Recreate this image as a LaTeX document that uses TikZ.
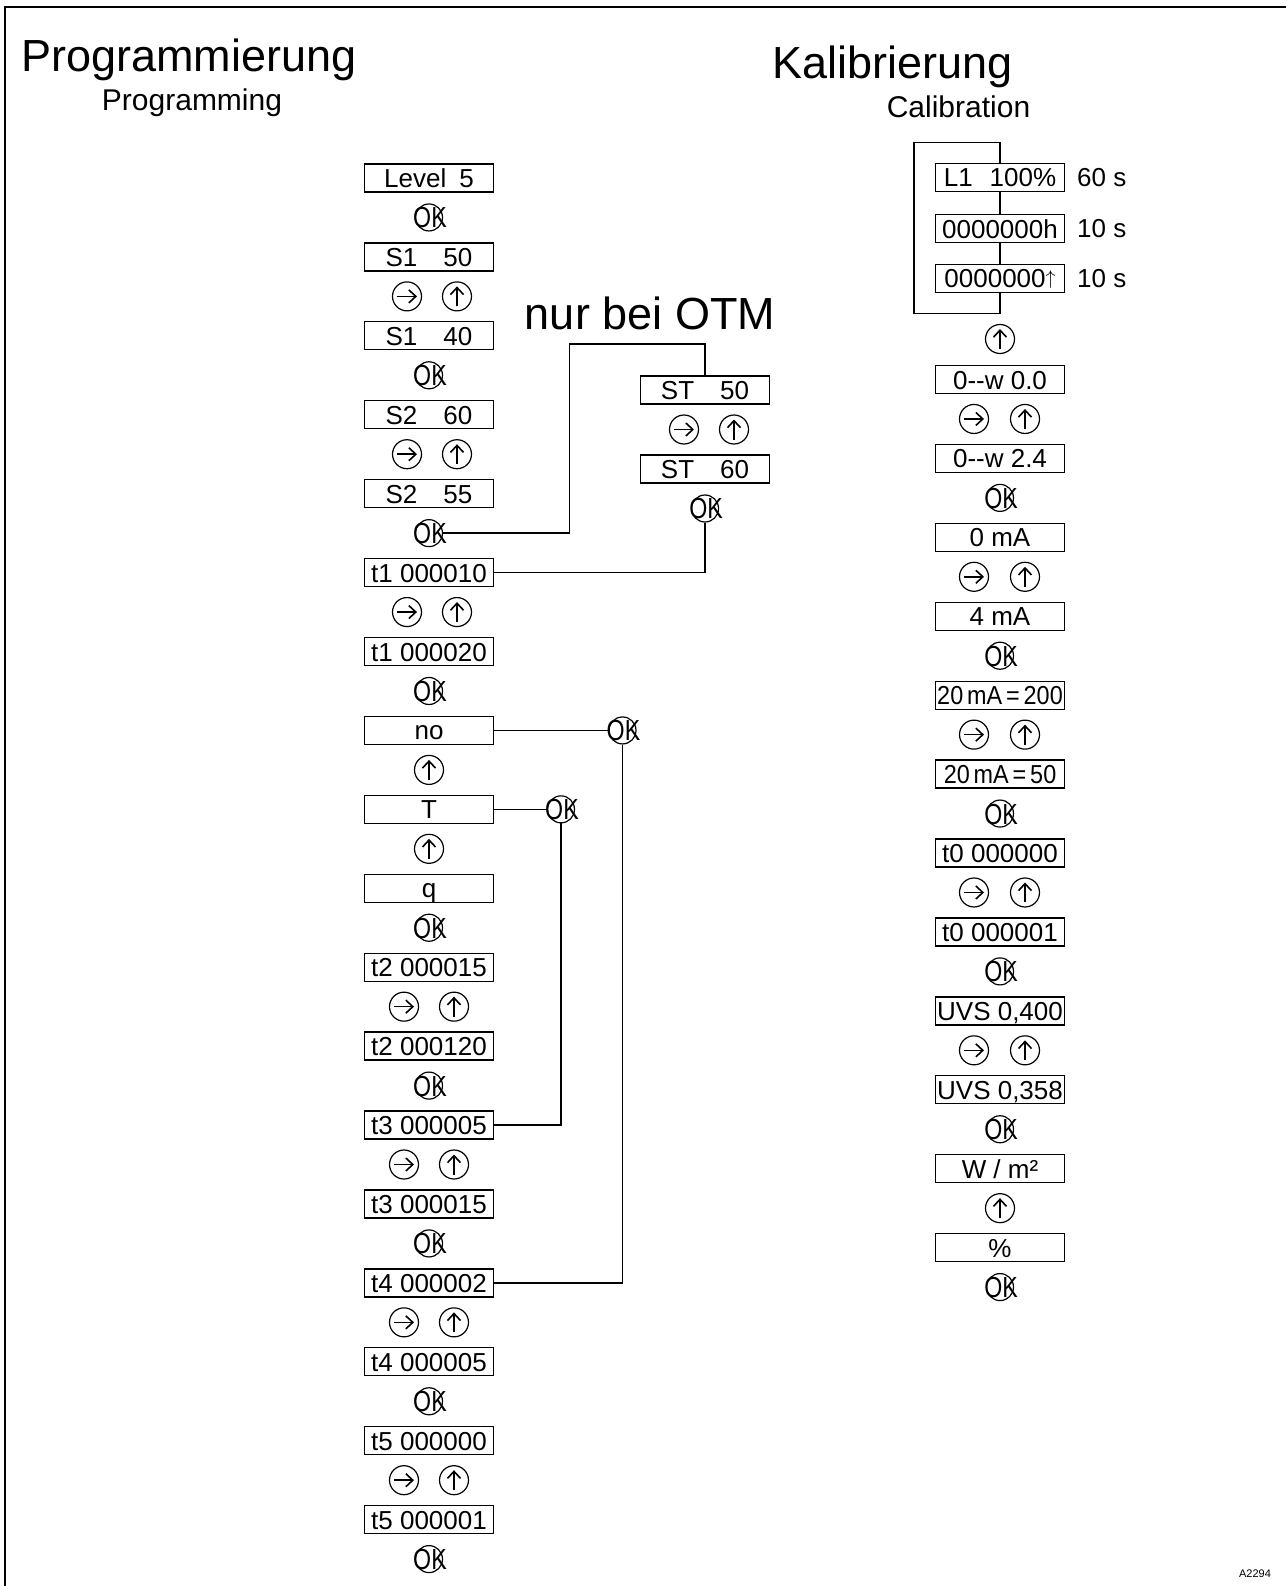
\documentclass[tikz,border=0pt]{standalone}
\usepackage{fontspec}
\setmainfont{Liberation Sans}
\usepackage{graphicx}
\usetikzlibrary{arrows.meta}
\newcommand\lcdsize{\fontsize{26}{28}\selectfont}
\newcommand\oksize{\fontsize{29}{29}\selectfont}
\newcommand\headsize{\fontsize{45}{50}\selectfont}
\newcommand\subsize{\fontsize{30}{34}\selectfont}
\newcommand\okmark{\makebox[0pt]{\hspace{2pt}\raisebox{-0.36em}[0pt][0pt]{\scalebox{0.8}[1]{OK}}}}
\newcommand\cntarrow{\raisebox{0.15em}{\scalebox{0.8}{$\uparrow$}}}

\begin{document}
\begin{tikzpicture}[x=1pt, y=-1pt,
    lcd/.style={draw, line width=1.3pt, minimum width=129pt, minimum height=28pt,
                inner sep=0pt, text height=19pt, text depth=0pt, font=\lcdsize},
    btn/.style={circle, draw, line width=1.2pt, inner sep=0pt, minimum size=29pt},
    okkey/.style={btn, minimum size=27pt, font=\oksize},
    rkey/.style={btn, path picture={\draw[line width=1.6pt, -{Straight Barb[length=7pt,width=13pt]}]
        ([xshift=-10pt]path picture bounding box.center) -- ([xshift=10pt]path picture bounding box.center);}},
    ukey/.style={btn, path picture={\draw[line width=1.6pt, -{Straight Barb[length=7pt,width=13pt]}]
        ([yshift=-10pt]path picture bounding box.center) -- ([yshift=10pt]path picture bounding box.center);}},
    wire/.style={line width=1.3pt},
    headtxt/.style={anchor=base, inner sep=0pt, font=\headsize},
    subtxt/.style={anchor=base, inner sep=0pt, font=\subsize}
  ]
    \useasboundingbox (0,0) rectangle (1286,1586);
    \draw[line width=2pt] (5,1586) -- (5,6.7) -- (1286,6.7);

    \node[headtxt] (prog) at (189,72) {Programmierung};
    \node[subtxt] (progen) at (192,110.5) {Programming};
    \node[headtxt] (kal) at (892.5,79) {Kalibrierung};
    \node[subtxt] (kalen) at (958.5,118) {Calibration};
    \node[headtxt] (otm) at (650,330) {nur bei OTM};
    \node[anchor=base, inner sep=0pt, font=\fontsize{11}{12}\selectfont] (code) at (1255,1577) {A2294};

    % Programmierung
    \foreach \k/\t in {0/{Level\hspace{0.5em}5}, 2/{S1\hspace{1em}50}, 4/{S1\hspace{1em}40},
        6/{S2\hspace{1em}60}, 8/{S2\hspace{1em}55}, 10/{t1 000010}, 12/{t1 000020},
        14/{no}, 16/{T}, 18/{q}, 20/{t2 000015}, 22/{t2 000120}, 24/{t3 000005},
        26/{t3 000015}, 28/{t4 000002}, 30/{t4 000005}, 32/{t5 000000}, 34/{t5 000001}} {
      \node[lcd] (p\k) at (429, 178+39.46*\k) {\t};
    }
    \foreach \k in {1,5,9,13,19,23,27,31,35} {
      \node[okkey] (p\k) at (429, 178+39.46*\k) {\okmark};
    }
    \foreach \k/\xa in {3/407,7/407,11/407,21/404,25/404,29/404,33/404} {
      \node[rkey] (pr\k) at (\xa, 178+39.46*\k) {};
      \node[ukey] (pu\k) at (\xa+50, 178+39.46*\k) {};
    }
    \foreach \k in {15,17} {
      \node[ukey] (p\k) at (429, 178+39.46*\k) {};
    }

    % nur bei OTM
    \node[lcd] (st50) at (705,390) {ST\hspace{1em}50};
    \node[rkey] (str) at (684,429.5) {};
    \node[ukey] (stu) at (734,429.5) {};
    \node[lcd] (st60) at (705,469) {ST\hspace{1em}60};
    \node[okkey] (stok) at (705,508.5) {\okmark};
    \coordinate (otmtop) at (569.6,344);
    \draw[wire] (p9.east) -| (otmtop) -| (st50.north);
    \draw[wire] (stok.south) |- (p10.east);

    \node[okkey] (nook) at (622.5, 178+39.46*14) {\okmark};
    \node[okkey] (took) at (561, 178+39.46*16) {\okmark};
    \draw[wire] (p14.east) -- (nook.west);
    \draw[wire] (nook.south) |- (p28.east);
    \draw[wire] (p16.east) -- (took.west);
    \draw[wire] (took.south) |- (p24.east);

    % Kalibrierung
    \node[lcd] (l1) at (1000,177.5) {L1\hspace{0.65em}100\%};
    \node[lcd] (hrs) at (1000,228.8) {0000000h};
    \node[lcd] (cnt) at (1000,278.5) {0000000\cntarrow};
    \node[anchor=west, inner sep=0pt, font=\lcdsize] (tl1) at (1077,177.5) {60 s};
    \node[anchor=west, inner sep=0pt, font=\lcdsize] (thrs) at (1077,228.8) {10 s};
    \node[anchor=west, inner sep=0pt, font=\lcdsize] (tcnt) at (1077,278.5) {10 s};
    \coordinate (lpa) at (914,142.3);
    \coordinate (lpb) at (914,313.3);
    \draw[wire] (l1.south) -- (hrs.north);
    \draw[wire] (hrs.south) -- (cnt.north);
    \draw[wire] (cnt.south) |- (lpb) -- (lpa) -| (l1.north);
    \node[ukey] (cup) at (1000,339) {};

    \foreach \k/\t in {0/{0-{}-w 0.0}, 2/{0-{}-w 2.4}, 4/{0 mA}, 6/{4 mA},
        8/{\scalebox{0.9}[1]{20\,mA\,=\,200}}, 10/{\scalebox{0.9}[1]{20\,mA\,=\,50}},
        12/{t0 000000}, 14/{t0 000001}, 16/{UVS 0,400}, 18/{UVS 0,358},
        20/{W / m²}, 22/{\%}} {
      \node[lcd] (c\k) at (1000, 379.5+39.46*\k) {\t};
    }
    \foreach \k in {3,7,11,15,19,23} {
      \node[okkey] (c\k) at (1000, 379.5+39.46*\k) {\okmark};
    }
    \foreach \k in {1,5,9,13,17} {
      \node[rkey] (cr\k) at (974, 379.5+39.46*\k) {};
      \node[ukey] (cu\k) at (1025, 379.5+39.46*\k) {};
    }
    \node[ukey] (c21) at (1000, 379.5+39.46*21) {};
  \end{tikzpicture}
\end{document}
